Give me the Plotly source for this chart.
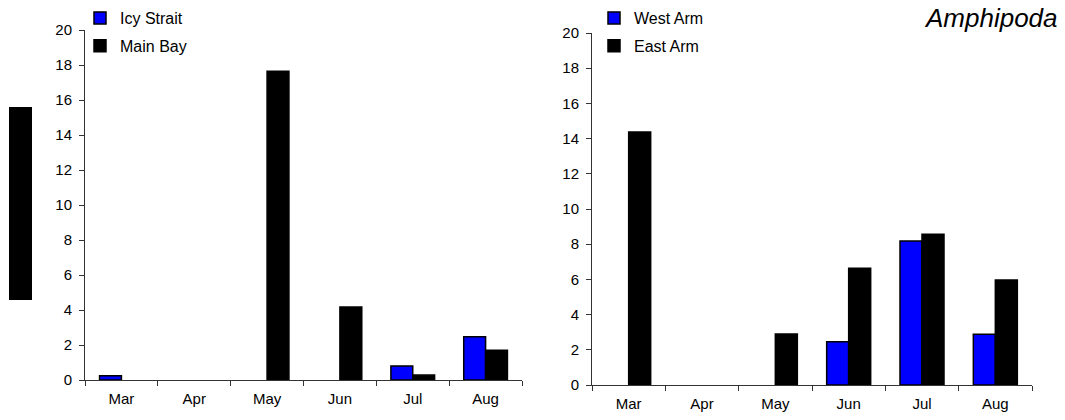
import plotly.graph_objects as go
from plotly.subplots import make_subplots

months = ["Mar", "Apr", "May", "Jun", "Jul", "Aug"]
icy_strait = [0.25, 0, 0, 0, 0.8, 2.47]
main_bay = [0, 0, 17.65, 4.17, 0.28, 1.7]
west_arm = [0, 0, 0, 2.46, 8.18, 2.88]
east_arm = [14.37, 0, 2.9, 6.63, 8.57, 5.97]
y_ticks = [0, 2, 4, 6, 8, 10, 12, 14, 16, 18, 20]
title_text = "Amphipoda"

W, H = 1065, 420
FONT = "Liberation Sans, Arial, sans-serif"
BLUE = "#0000FF"
BLACK = "#000000"

fig = make_subplots(rows=1, cols=2)

def bar(name, x, y, color, legend, col, group):
    # zero values are drawn as empty (no visible bar), as in the original chart
    yy = [v if v else None for v in y]
    fig.add_trace(
        go.Bar(
            name=name, x=x, y=yy,
            marker=dict(color=color, line=dict(color="#000000", width=1.5)),
            legend=legend, legendgroup=group,
        ),
        row=1, col=col,
    )

bar("Icy Strait", months, icy_strait, BLUE, "legend", 1, "a")
bar("Main Bay", months, main_bay, BLACK, "legend", 1, "b")
bar("West Arm", months, west_arm, BLUE, "legend2", 2, "c")
bar("East Arm", months, east_arm, BLACK, "legend2", 2, "d")

def px_x(p):
    return p / W

def px_y(p):
    return (H - p) / H

axis_common = dict(showgrid=False, zeroline=False, showline=True,
                   linecolor="#333333", linewidth=1, ticks="outside",
                   tickcolor="#333333", ticklen=5, automargin=False,
                   tickfont=dict(family=FONT, size=15, color="#000000"))

leg_common = dict(xanchor="left", yanchor="top", bgcolor="rgba(0,0,0,0)",
                  tracegroupgap=4, font=dict(family=FONT, size=16),
                  itemwidth=30, traceorder="grouped")

fig.update_layout(
    width=W, height=H,
    margin=dict(l=0, r=0, t=0, b=0, autoexpand=False),
    paper_bgcolor="white", plot_bgcolor="white",
    barmode="group", bargap=0.4, bargroupgap=0,
    font=dict(family=FONT, size=15, color="#000000"),
    xaxis=dict(domain=[px_x(85), px_x(522)], type="category",
               tickson="boundaries", ticklabelstandoff=5, **axis_common),
    xaxis2=dict(domain=[px_x(592), px_x(1032)], type="category",
                tickson="boundaries", ticklabelstandoff=5, **axis_common),
    yaxis=dict(domain=[px_y(380), px_y(30)], range=[0, 20],
               tickvals=y_ticks, ticklabelstandoff=4, **axis_common),
    yaxis2=dict(domain=[px_y(385), px_y(33)], range=[0, 20],
                tickvals=y_ticks, ticklabelstandoff=4, **axis_common),
    legend=dict(x=px_x(80), y=px_y(1), **leg_common),
    legend2=dict(x=px_x(594), y=px_y(1), **leg_common),
    showlegend=True,
)

fig.add_shape(type="rect", xref="paper", yref="paper",
              x0=px_x(9), x1=px_x(32), y0=px_y(300), y1=px_y(107),
              fillcolor="#000000", line=dict(width=0))

fig.add_annotation(text="<i>" + title_text + "</i>", xref="paper", yref="paper",
                   x=px_x(1060), y=px_y(18), xanchor="right", yanchor="middle",
                   showarrow=False, font=dict(family=FONT, size=26, color="#000000"))

fig.write_html("out.html", config={"displayModeBar": False},
               post_script="document.body.style.margin='0';")
